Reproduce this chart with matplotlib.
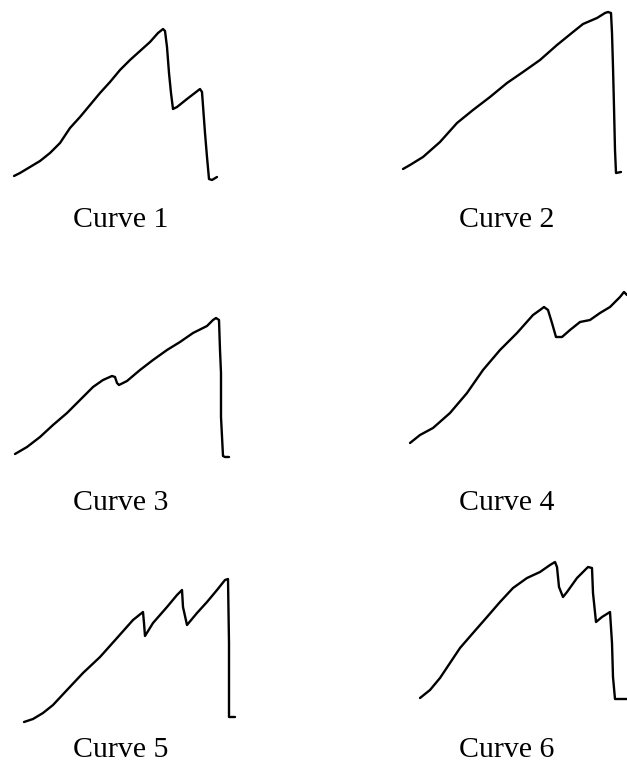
import matplotlib
matplotlib.use("Agg")
import matplotlib.pyplot as plt

# Load-displacement traces (displacement, load) for six specimens
curve1_disp = [14, 20, 30, 40, 50, 60, 70, 80, 90, 100, 110, 120, 130, 140, 150, 158, 163, 165, 167, 169, 171, 173, 177, 187, 200, 202, 205, 207, 209, 212, 217]
curve1_load = [14, 17, 23, 29, 37, 47, 62, 73, 85, 97, 108, 120, 130, 139, 148, 157, 161, 159, 143, 117, 97, 81, 83, 91, 101, 98, 57, 33, 11, 10, 13]

curve2_disp = [8, 15, 28, 45, 62, 78, 95, 112, 128, 145, 162, 178, 188, 202, 210, 213, 216, 217, 218, 219, 220, 221, 226]
curve2_load = [21, 25, 33, 48, 67, 80, 93, 107, 118, 130, 145, 158, 166, 172, 177, 178, 177, 157, 123, 83, 40, 17, 18]

curve3_disp = [15, 27, 40, 53, 67, 80, 93, 103, 112, 115, 117, 119, 127, 140, 153, 167, 180, 193, 207, 213, 216, 219, 220, 221, 221, 223, 225, 229]
curve3_load = [16, 23, 33, 45, 57, 70, 83, 90, 94, 93, 87, 85, 89, 100, 110, 120, 128, 137, 144, 150, 152, 150, 120, 97, 53, 14, 13, 13]

curve4_disp = [15, 25, 38, 55, 72, 88, 105, 122, 138, 145, 149, 153, 157, 161, 167, 175, 185, 195, 205, 215, 225, 229, 232]
curve4_load = [27, 35, 42, 57, 77, 100, 120, 137, 155, 160, 163, 160, 147, 133, 133, 140, 148, 150, 157, 163, 173, 178, 175]

curve5_disp = [24, 33, 43, 53, 67, 83, 100, 117, 133, 143, 144, 145, 153, 167, 177, 182, 183, 187, 197, 207, 217, 225, 228, 229, 229, 235]
curve5_load = [8, 11, 17, 25, 40, 57, 73, 92, 110, 118, 107, 94, 107, 123, 135, 140, 123, 105, 117, 128, 140, 150, 151, 87, 13, 13]

curve6_disp = [25, 35, 45, 55, 65, 78, 92, 105, 118, 132, 145, 155, 160, 162, 164, 168, 172, 182, 193, 197, 198, 201, 207, 215, 217, 218, 220, 232]
curve6_load = [32, 40, 52, 67, 82, 97, 113, 128, 142, 152, 158, 165, 168, 163, 143, 133, 138, 152, 163, 162, 137, 108, 113, 118, 87, 53, 31, 31]

labels = ["Curve 1", "Curve 2", "Curve 3", "Curve 4", "Curve 5", "Curve 6"]
series = [(curve1_disp, curve1_load), (curve2_disp, curve2_load),
          (curve3_disp, curve3_load), (curve4_disp, curve4_load),
          (curve5_disp, curve5_load), (curve6_disp, curve6_load)]

W, H = 627, 762
fig = plt.figure(figsize=(W / 100, H / 100), dpi=100)
fig.patch.set_facecolor("white")

# panel frames in pixels: (left, bottom-from-top, width, height)
col_left = [0, 395]
col_width = [240, 232]
row_bottom = [190, 470, 730]
row_height = [190, 220, 220]
label_center = [121, 507]
label_baseline = [227, 510, 757]

for i, (xs, ys) in enumerate(series):
    r, c = divmod(i, 2)
    ax = fig.add_axes([col_left[c] / W, (H - row_bottom[r]) / H,
                       col_width[c] / W, row_height[r] / H])
    ax.plot(xs, ys, color="black", lw=1.7, solid_joinstyle="round",
            solid_capstyle="round", clip_on=False)
    ax.set_xlim(0, col_width[c])
    ax.set_ylim(0, row_height[r])
    ax.axis("off")
    fig.text(label_center[c] / W, 1 - label_baseline[r] / H, labels[i],
             ha="center", va="baseline", fontsize=21.5,
             family="Liberation Serif", color="black")

fig.savefig("out.png", dpi=100, facecolor="white")
